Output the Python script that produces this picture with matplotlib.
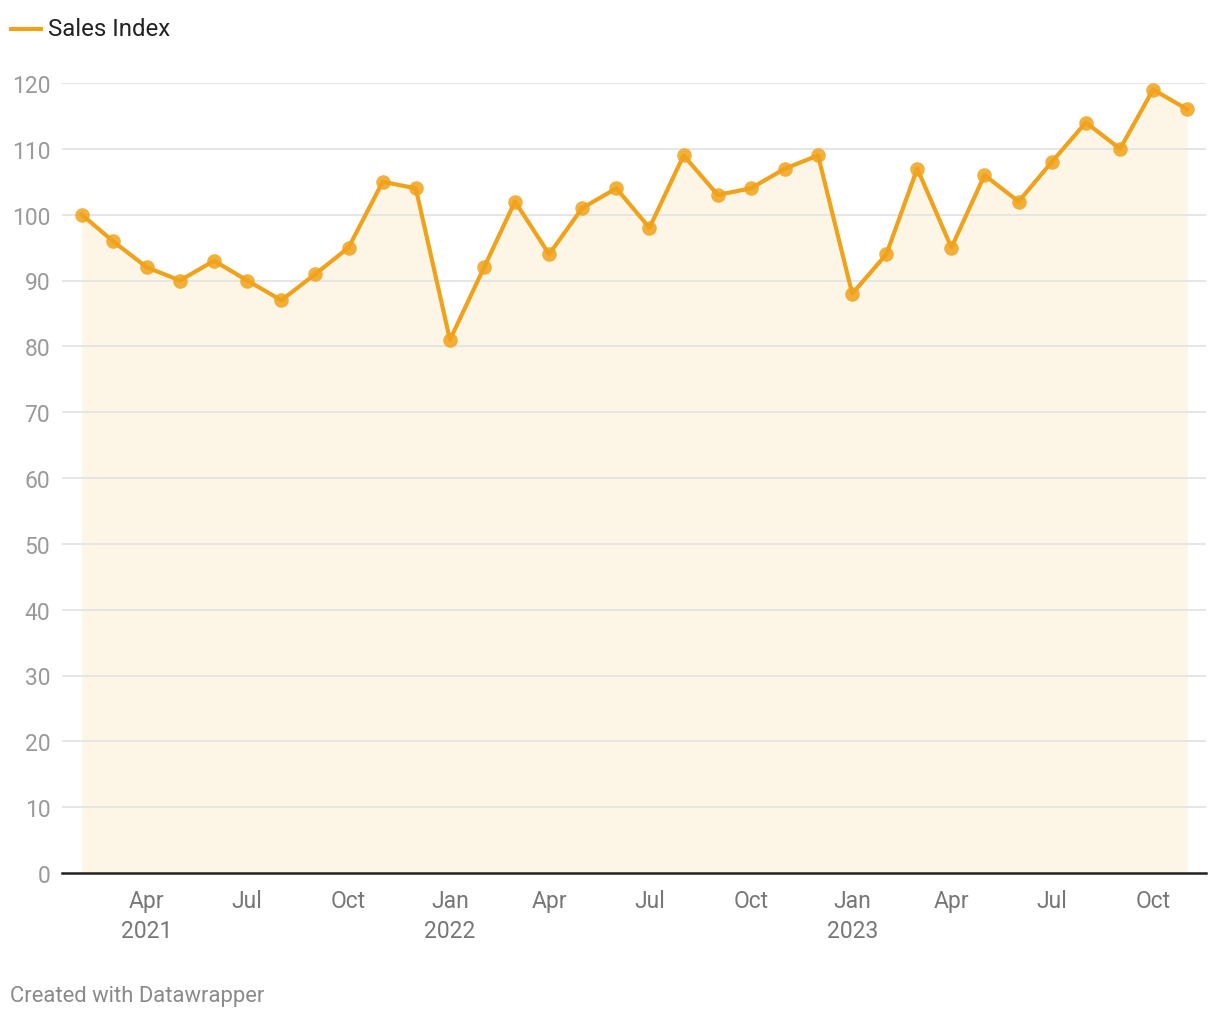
import matplotlib.pyplot as plt
import matplotlib.dates as mdates
import numpy as np
import pandas as pd

plt.rcParams['font.family'] = ['Roboto', 'DejaVu Sans']

# données
dates = pd.date_range("2021-02-01", "2023-11-01", freq="MS")
sales_index = [100, 96, 92, 90, 93, 90, 87, 91, 95, 105, 104,
               81, 92, 102, 94, 101, 104, 98, 109, 103, 104, 107, 109,
               88, 94, 107, 95, 106, 102, 108, 114, 110, 119, 116]
y_ticks = [0, 10, 20, 30, 40, 50, 60, 70, 80, 90, 100, 110, 120]
x_tick_dates = pd.to_datetime(["2021-04-01", "2021-07-01", "2021-10-01",
                               "2022-01-01", "2022-04-01", "2022-07-01", "2022-10-01",
                               "2023-01-01", "2023-04-01", "2023-07-01", "2023-10-01"])
x_tick_labels = ["Apr\n2021", "Jul", "Oct", "Jan\n2022", "Apr", "Jul", "Oct",
                 "Jan\n2023", "Apr", "Jul", "Oct"]

LINE = "#F0A21B"
FILL = "#FDF5E6"

fig = plt.figure(figsize=(12.2, 10.2), dpi=100)
ax = fig.add_axes([62 / 1220, 146 / 1020, (1206 - 62) / 1220, (874 - 84) / 1020])

ax.fill_between(dates, sales_index, 0, color=FILL, lw=0, zorder=1)
for t in y_ticks[1:]:
    ax.axhline(t, color="#e2e2e2", lw=1.2, zorder=2)
ax.plot(dates, sales_index, color=LINE, lw=3, zorder=3, clip_on=False)
ax.scatter(dates, sales_index, s=110, color=LINE, alpha=0.85, lw=0,
           zorder=4, clip_on=False)

ax.set_xlim(pd.Timestamp("2021-01-14"), pd.Timestamp("2023-11-18"))
ax.set_ylim(0, 120)

ax.set_yticks(y_ticks)
ax.set_yticklabels([str(t) for t in y_ticks])
ax.set_xticks(x_tick_dates)
ax.set_xticklabels(x_tick_labels, linespacing=1.4)
ax.tick_params(axis="y", length=0, pad=8.5, labelsize=16.5, labelcolor="#9a9a9a")
ax.tick_params(axis="x", length=0, pad=11.5, labelsize=16.5, labelcolor="#777777")

ax.spines[["top", "right", "left"]].set_visible(False)
ax.spines["bottom"].set_color("#222222")
ax.spines["bottom"].set_linewidth(1.8)
ax.spines["bottom"].set_zorder(5)

# légende
fig.add_artist(plt.Line2D([11 / 1220, 41 / 1220], [1 - 30 / 1020, 1 - 30 / 1020],
                          color=LINE, lw=3))
fig.text(48 / 1220, 1 - 30 / 1020, "Sales Index", fontsize=17.3, color="#222222",
         va="center", ha="left")

fig.text(10 / 1220, 1 - 997 / 1020, "Created with Datawrapper", fontsize=15.8,
         color="#8a8a8a", va="center", ha="left")

plt.savefig("out.png", dpi=100)
